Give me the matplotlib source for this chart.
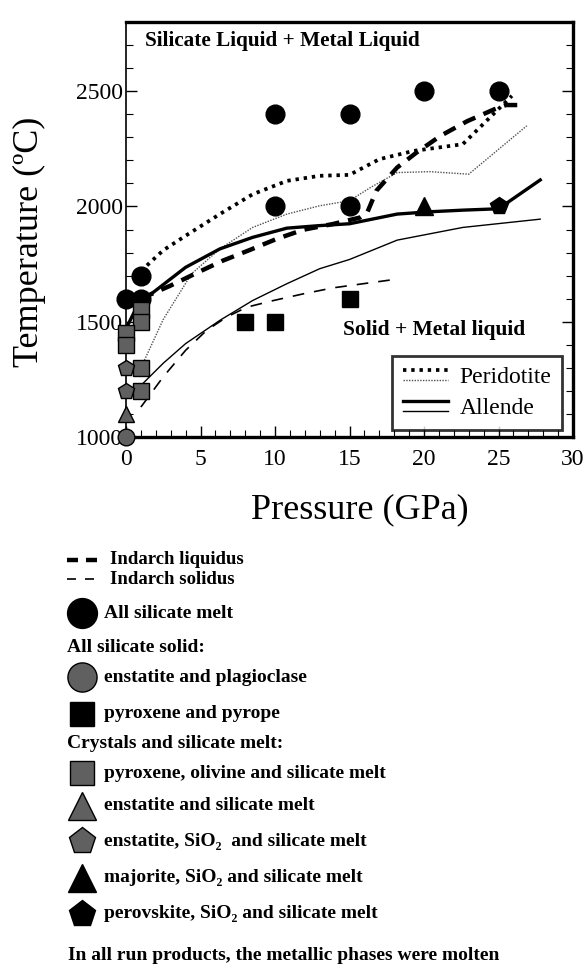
import matplotlib
matplotlib.use("Agg")
import matplotlib.pyplot as plt
from matplotlib.lines import Line2D
from matplotlib.legend_handler import HandlerBase
from matplotlib.ticker import MultipleLocator

SERIF = ["Liberation Serif", "DejaVu Serif"]
plt.rcParams["font.family"] = SERIF
GRAY = "#606060"

# ---- phase boundary curves (pressure GPa, temperature degC) ----
perid_liq_p = [1, 2.5, 4, 6.3, 8.5, 10.8, 13, 15, 17, 19.3, 22.6, 25.9]
perid_liq_t = [1720, 1810, 1873, 1967, 2053, 2111, 2133, 2137, 2205, 2241, 2270, 2480]

perid_sol_p = [1, 2.5, 4.4, 6.3, 8.5, 10.8, 13, 15, 16.4, 18.2, 20.4, 23, 26.9]
perid_sol_t = [1300, 1510, 1708, 1816, 1909, 1967, 2003, 2025, 2082, 2147, 2151, 2140, 2350]

allende_liq_p = [0, 1, 1.7, 4, 6.3, 8.5, 10.8, 13, 15, 18.2, 20.4, 22.6, 25, 27.8]
allende_liq_t = [1470, 1600, 1621, 1736, 1816, 1866, 1906, 1917, 1925, 1967, 1977, 1984, 1990, 2115]

allende_sol_p = [1.1, 2.5, 4, 6.3, 8.5, 10.8, 13, 15, 18.2, 22.6, 27.8]
allende_sol_t = [1230, 1320, 1405, 1506, 1592, 1665, 1730, 1770, 1854, 1909, 1945]

indarch_liq_p = [1, 3, 4.85, 6.5, 8.3, 10.1, 11.9, 13.9, 15.7, 16.2, 16.8, 18.2, 19.5,
                 21.1, 22.9, 24.7, 25.5, 26.8]
indarch_liq_t = [1600, 1657, 1715, 1765, 1811, 1859, 1899, 1924, 1952, 1975, 2068, 2169, 2234,
                 2306, 2370, 2421, 2440, 2440]

indarch_sol_p = [1, 2.5, 4, 5.4, 6.75, 8.1, 9.9, 11.9, 13.9, 18.2]
indarch_sol_t = [1130, 1261, 1376, 1462, 1520, 1563, 1592, 1621, 1647, 1685]

# ---- run products ----
melt_p = [10, 15, 20, 25, 10, 15, 1, 0, 1]
melt_t = [2400, 2400, 2500, 2500, 2000, 2000, 1700, 1600, 1600]

en_plag_p = [0]
en_plag_t = [1000]

pyx_pyrope_p = [8, 10, 15]
pyx_pyrope_t = [1500, 1500, 1600]

pyx_ol_p = [1, 1, 0, 0, 1, 1]
pyx_ol_t = [1550, 1500, 1450, 1400, 1300, 1200]

en_melt_p = [0]
en_melt_t = [1100]

en_sio2_p = [0, 0]
en_sio2_t = [1300, 1200]

maj_p = [20]
maj_t = [2000]

pv_p = [25]
pv_t = [2000]

x_ticks = [0, 5, 10, 15, 20, 25, 30]
y_ticks = [1000, 1500, 2000, 2500]

# ---- line styles ----
STY_PERID_LIQ = dict(color="black", lw=2.7, ls=(0, (0.9, 1.3)), dash_capstyle="butt")
STY_PERID_SOL = dict(color="#505050", lw=1.0, ls=(0, (1, 1)))
STY_ALL_LIQ = dict(color="black", lw=2.4, ls="-")
STY_ALL_SOL = dict(color="black", lw=1.0, ls="-")
STY_IND_LIQ = dict(color="black", lw=3.2, ls=(0, (3.0, 2.0)))
STY_IND_SOL = dict(color="black", lw=1.2, ls=(0, (7, 6)))

fig = plt.figure(figsize=(5.88, 9.67), dpi=100)
ax = fig.add_axes([0.2143, 0.5481, 0.7602, 0.4291])

ax.plot(perid_liq_p, perid_liq_t, **STY_PERID_LIQ, zorder=3)
ax.plot(perid_sol_p, perid_sol_t, **STY_PERID_SOL, zorder=3)
ax.plot(allende_liq_p, allende_liq_t, **STY_ALL_LIQ, zorder=3)
ax.plot(allende_sol_p, allende_sol_t, **STY_ALL_SOL, zorder=3)
ax.plot(indarch_liq_p, indarch_liq_t, **STY_IND_LIQ, zorder=3)
ax.plot(indarch_sol_p, indarch_sol_t, **STY_IND_SOL, zorder=3)

mk = dict(ls="none", clip_on=False, zorder=5, markeredgecolor="black", markeredgewidth=1.0)
ax.plot(melt_p, melt_t, marker="o", ms=13.5, color="black", **mk)
ax.plot(en_plag_p, en_plag_t, marker="o", ms=12, color=GRAY, **mk)
ax.plot(pyx_pyrope_p, pyx_pyrope_t, marker="s", ms=11, color="black", **mk)
ax.plot(pyx_ol_p, pyx_ol_t, marker="s", ms=11.5, color=GRAY, **mk)
ax.plot(en_melt_p, en_melt_t, marker="^", ms=11, color=GRAY, **mk)
ax.plot(en_sio2_p, en_sio2_t, marker="p", ms=12, color=GRAY, **mk)
ax.plot(maj_p, maj_t, marker="^", ms=13, color="black", **mk)
ax.plot(pv_p, pv_t, marker="p", ms=13, color="black", **mk)

ax.set_xlim(0, 30)
ax.set_ylim(1000, 2800)
ax.set_xticks(x_ticks)
ax.set_yticks(y_ticks)
ax.xaxis.set_minor_locator(MultipleLocator(1))
ax.yaxis.set_minor_locator(MultipleLocator(100))
ax.tick_params(axis="both", which="both", direction="in", labelsize=17, top=False, right=True)
ax.tick_params(axis="y", which="major", length=8, width=1.0, pad=2)
ax.tick_params(axis="y", which="minor", length=5, width=0.8)
ax.tick_params(axis="x", which="major", length=8, width=1.0, pad=9)
ax.tick_params(axis="x", which="minor", length=5, width=0.8)
for side in ("top", "right", "bottom"):
    ax.spines[side].set_linewidth(2.4)
ax.spines["left"].set_linewidth(1.2)

ax.set_xlabel("Pressure (GPa)", fontsize=26)
ax.xaxis.set_label_coords(0.523, -0.176)
ax.xaxis.label.set_verticalalignment("center")
ax.set_ylabel("Temperature (ºC)", fontsize=26)
ax.yaxis.set_label_coords(-0.215, 0.47)
ax.yaxis.label.set_verticalalignment("center")

ax.text(0.042, 0.955, "Silicate Liquid + Metal Liquid", transform=ax.transAxes,
        fontsize=15.3, fontweight="bold", va="center", ha="left")
ax.text(0.486, 0.258, "Solid + Metal liquid", transform=ax.transAxes,
        fontsize=15.5, fontweight="bold", va="center", ha="left")


class PairedLines:
    def __init__(self, upper, lower):
        self.upper = upper
        self.lower = lower


class HandlerPaired(HandlerBase):
    def create_artists(self, legend, orig_handle, xdescent, ydescent, width, height,
                       fontsize, trans):
        x0, x1 = -xdescent, width - xdescent
        y_hi = -ydescent + 0.80 * height
        y_lo = -ydescent + 0.15 * height
        a = Line2D([x0, x1], [y_hi, y_hi])
        a.update_from(orig_handle.upper)
        b = Line2D([x0, x1], [y_lo, y_lo])
        b.update_from(orig_handle.lower)
        for ln in (a, b):
            ln.set_transform(trans)
        return [a, b]


h_perid = PairedLines(Line2D([], [], **STY_PERID_LIQ), Line2D([], [], **STY_PERID_SOL))
h_allende = PairedLines(Line2D([], [], **STY_ALL_LIQ), Line2D([], [], **STY_ALL_SOL))
leg = ax.legend([h_perid, h_allende], ["Peridotite", "Allende"],
                handler_map={PairedLines: HandlerPaired()},
                loc="lower right", bbox_to_anchor=(0.975, 0.017),
                fontsize=17, frameon=True, fancybox=False, handlelength=1.9,
                handleheight=0.6, handletextpad=0.5, borderpad=0.45, labelspacing=0.45,
                borderaxespad=0.0)
leg.get_frame().set_edgecolor("black")
leg.get_frame().set_linewidth(2.0)

# ---- key below the plot, laid out in pixel units ----
key = fig.add_axes([0, 0, 1, 1])
key.set_xlim(0, 588)
key.set_ylim(967, 0)
key.set_axis_off()
key.patch.set_visible(False)

KFS = 14
TX = 104
key.plot([67, 97], [560, 560], color="black", lw=3.2, ls=(0, (2.475, 1.8)),
         solid_capstyle="butt", dash_capstyle="butt")
key.text(110, 560, "Indarch liquidus", fontsize=13.5, fontweight="bold", va="center")
key.plot([67, 94], [579, 579], color="black", lw=1.2, ls=(0, (5.4, 5.4)),
         solid_capstyle="butt", dash_capstyle="butt")
key.text(110, 579, "Indarch solidus", fontsize=13.5, fontweight="bold", va="center")

rows = [
    ("o", "black", 21.5, 613, "All silicate melt"),
    (None, None, None, 647, "All silicate solid:"),
    ("o", GRAY, 21, 677, "enstatite and plagioclase"),
    ("s", "black", 17, 714, "pyroxene and pyrope"),
    (None, None, None, 744, "Crystals and silicate melt:"),
    ("s", GRAY, 17, 773, "pyroxene, olivine and silicate melt"),
    ("^", GRAY, 20, 806, "enstatite and silicate melt"),
    ("p", GRAY, 20, 841, "enstatite, SiO\u2082  and silicate melt"),
    ("^", "black", 20, 878, "majorite, SiO\u2082 and silicate melt"),
    ("p", "black", 20, 914, "perovskite, SiO\u2082 and silicate melt"),
]
for marker, color, size, y, label in rows:
    if marker is None:
        key.text(67, y, label, fontsize=KFS, fontweight="bold", va="center")
    else:
        key.plot([82], [y], marker=marker, ms=size, color=color, ls="none",
                 markeredgecolor="black", markeredgewidth=1.0)
        key.text(TX, y, label, fontsize=KFS, fontweight="bold", va="center")

key.text(68, 955, "In all run products, the metallic phases were molten",
         fontsize=KFS, fontweight="bold", va="center")

fig.savefig("out.png", dpi=100)
